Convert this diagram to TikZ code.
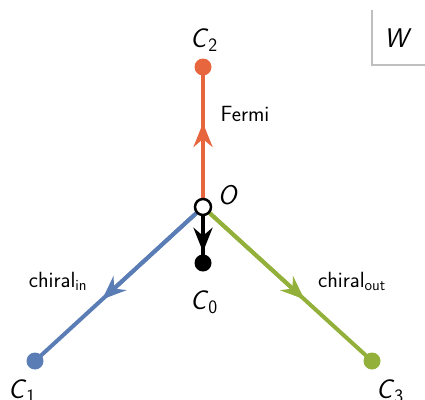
\documentclass[tikz,border=0pt]{standalone}
\usetikzlibrary{arrows.meta,calc}
\renewcommand{\familydefault}{\sfdefault}
\definecolor{corange}{HTML}{E8663D}
\definecolor{cblue}{HTML}{5B7DB5}
\definecolor{cgreen}{HTML}{93B13A}
\newcommand{\mlbl}[2]{\textit{#1}\textsubscript{#2}}
\begin{document}
\begin{tikzpicture}[x=1pt,y=-1pt,
  edge/.style={line width=4pt},
  tip/.style={-{Stealth[length=24pt,width=19pt,inset=8pt]}},
  dot/.style={circle,fill=#1,inner sep=0pt,minimum size=17pt},
  lbl/.style={font=\fontsize{27}{32}\selectfont,inner sep=0pt},
  elbl/.style={font=\fontsize{22}{26}\selectfont,inner sep=0pt}]
\useasboundingbox (0,0) rectangle (425,399);
\draw[black!25,line width=1.2pt] (372,10) -- (372,65) -- (425,65);
\node[lbl] (w) at (398,38) {\textit{W}};
\node[dot=corange] (c2) at (203,67) {};
\node[dot=black] (c0) at (203,263) {};
\node[dot=cblue] (c1) at (35,361) {};
\node[dot=cgreen] (c3) at (372,361) {};
\coordinate (o) at (203,207);
\draw[edge,corange] (o) -- (c2.center);
\draw[edge,cblue] (o) -- (c1.center);
\draw[edge,cgreen] (o) -- (c3.center);
\draw[edge,black] (o) -- (c0.center);
\draw[edge,corange,tip] (o) -- ($(o)!0.6!(c2.center)$);
\draw[edge,cblue,tip] (o) -- ($(o)!0.6!(c1.center)$);
\draw[edge,cgreen,tip] (o) -- ($(o)!0.6!(c3.center)$);
\draw[edge,black,tip] (o) -- ($(o)!0.8!(c0.center)$);
\node[circle,draw=black,fill=white,line width=2.5pt,minimum size=16pt,inner sep=0pt] (on) at (o) {};
\node[lbl] (lo) at (228,195) {\textit{O}};
\node[lbl] (l2) at (204,40) {\mlbl{C}{2}};
\node[lbl] (l0) at (204,302) {\mlbl{C}{0}};
\node[lbl] (l1) at (22,391) {\mlbl{C}{1}};
\node[lbl] (l3) at (390,391) {\mlbl{C}{3}};
\node[elbl] (f) at (245,114) {Fermi};
\node[elbl] (ci) at (58,281) {chiral\textsubscript{in}};
\node[elbl] (co) at (352,281) {chiral\textsubscript{out}};
\end{tikzpicture}
\end{document}
